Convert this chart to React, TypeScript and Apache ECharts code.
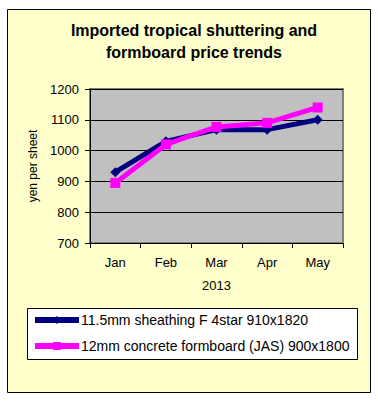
import React, { useEffect, useRef } from "react";
import * as echarts from "echarts";

const months = ["Jan", "Feb", "Mar", "Apr", "May"];
const sheathing = [930, 1030, 1068, 1068, 1100];
const formboard = [895, 1020, 1077, 1090, 1140];
const seriesNames = [
  "11.5mm sheathing F 4star 910x1820",
  "12mm concrete formboard (JAS) 900x1800",
];
const titleText = "Imported tropical shuttering and\nformboard price trends";

export default function App() {
  const ref = useRef<HTMLDivElement>(null);
  useEffect(() => {
    const chart = echarts.init(ref.current!, undefined, { renderer: "svg" });
    const font = "Arial, 'Liberation Sans', sans-serif";
    chart.setOption({
      animation: false,
      backgroundColor: "#ffffff",
      graphic: [
        {
          type: "rect",
          shape: { x: 7.5, y: 9.5, width: 363, height: 383 },
          style: { fill: "#FFFFCC", stroke: "#000000", lineWidth: 1 },
          z: -10,
        },
        {
          type: "rect",
          shape: { x: 27.5, y: 308.5, width: 330, height: 51 },
          style: { fill: "#ffffff", stroke: "#000000", lineWidth: 1 },
          z: -5,
        },
      ],
      title: {
        text: titleText,
        left: 189,
        textAlign: "center",
        top: 14,
        textStyle: {
          fontFamily: font,
          fontSize: 16,
          fontWeight: "bold",
          color: "#000000",
          lineHeight: 22,
        },
      },
      grid: {
        left: 90,
        top: 89,
        right: 35,
        bottom: 158,
        show: true,
        backgroundColor: "#C0C0C0",
        borderColor: "#808080",
        borderWidth: 2,
      },
      xAxis: {
        type: "category",
        data: months,
        boundaryGap: true,
        name: "2013",
        nameLocation: "middle",
        nameGap: 36,
        nameTextStyle: { fontFamily: font, fontSize: 13, color: "#000" },
        axisLine: { show: true, lineStyle: { color: "#000", width: 1 } },
        axisTick: { show: true, length: 5, lineStyle: { color: "#000" } },
        axisLabel: { fontFamily: font, fontSize: 13, color: "#000", margin: 13 },
      },
      yAxis: {
        type: "value",
        min: 700,
        max: 1200,
        interval: 100,
        name: "yen per sheet",
        nameLocation: "middle",
        nameGap: 44,
        nameTextStyle: { fontFamily: font, fontSize: 12, color: "#000" },
        axisLine: { show: true, lineStyle: { color: "#000", width: 1 } },
        axisTick: { show: true, length: 5, lineStyle: { color: "#000" } },
        axisLabel: {
          fontFamily: font,
          fontSize: 13,
          color: "#000",
          margin: 11,
          formatter: (v: number) => String(v),
        },
        splitLine: { show: true, lineStyle: { color: "#000", width: 1 } },
      },
      legend: {
        orient: "vertical",
        left: 32,
        top: 313,
        padding: 0,
        itemWidth: 44,
        itemHeight: 10,
        itemGap: 12,
        lineStyle: { width: 6 },
        textStyle: { fontFamily: font, fontSize: 14, color: "#000", padding: [0, 0, 0, -3] },
        data: seriesNames,
      },
      series: [
        {
          name: seriesNames[0],
          type: "line",
          data: sheathing,
          color: "#000080",
          lineStyle: { width: 5, color: "#000080" },
          symbol: "diamond",
          symbolSize: 10,
          itemStyle: { color: "#000080" },
          z: 2,
        },
        {
          name: seriesNames[1],
          type: "line",
          data: formboard,
          color: "#FF00FF",
          lineStyle: { width: 5, color: "#FF00FF" },
          symbol: "rect",
          symbolSize: 10,
          itemStyle: { color: "#FF00FF" },
          z: 3,
        },
      ],
    });
    return () => chart.dispose();
  }, []);
  return (
    <div
      ref={ref}
      style={{ position: "fixed", left: 0, top: 0, width: 378, height: 401 }}
    />
  );
}
